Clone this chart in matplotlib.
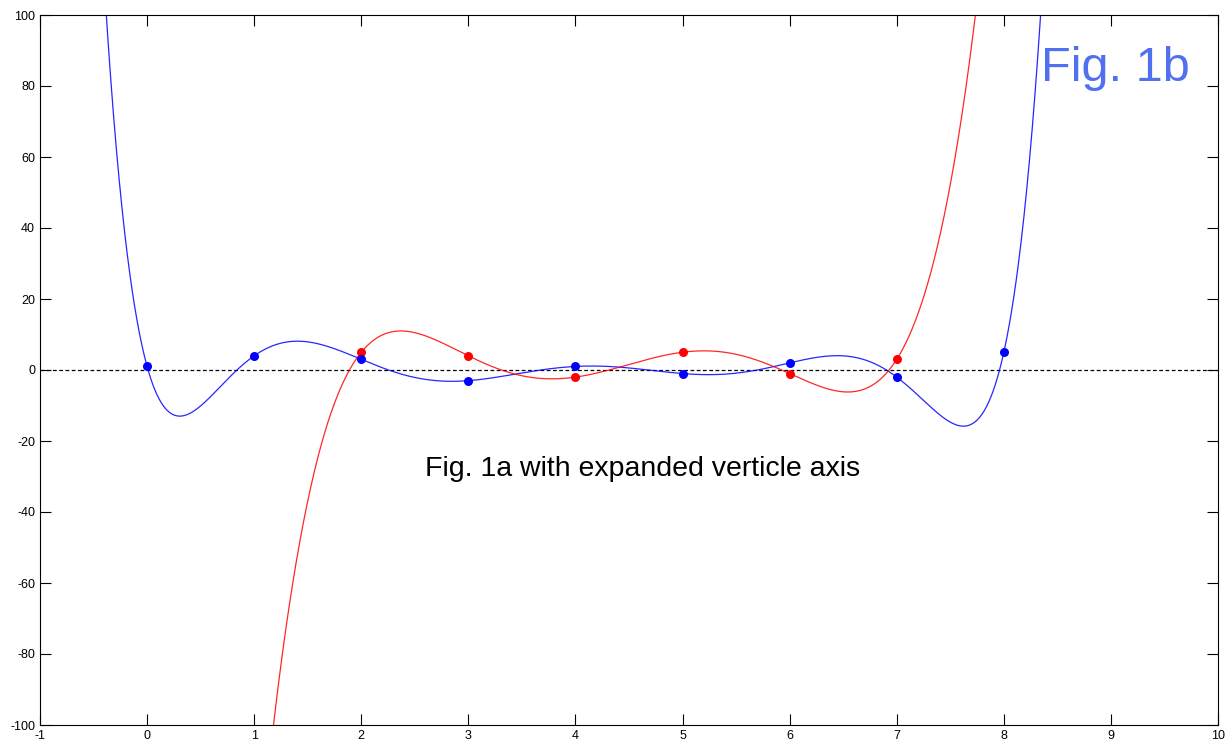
import numpy as np
import matplotlib.pyplot as plt

plt.rcParams['font.family'] = ['Liberation Sans', 'DejaVu Sans']
plt.rcParams['axes.unicode_minus'] = False

# data points
blue_x = [0, 1, 2, 3, 4, 5, 6, 7, 8]
blue_y = [1, 4, 3, -3, 1, -1, 2, -2, 5]
red_x = [2, 3, 4, 5, 6, 7]
red_y = [5, 4, -2, 5, -1, 3]

x_ticks = list(range(-1, 11))
y_ticks = list(range(-100, 101, 20))


def interp_curve(xs, ys, grid):
    # polynomial passing through every point
    coef = np.polyfit(xs, ys, len(xs) - 1)
    return np.polyval(coef, grid)


def main():
    fig = plt.figure(figsize=(12.3, 7.5), dpi=100)
    ax = fig.add_axes([40 / 1230, 25 / 750, 1178 / 1230, 710 / 750])

    grid = np.linspace(-1, 10, 3000)
    ax.axhline(0, color='black', ls=(0, (3, 2)), lw=0.9, zorder=1)
    ax.plot(grid, interp_curve(blue_x, blue_y, grid), color='#0000ff', lw=0.9, alpha=0.85)
    ax.plot(grid, interp_curve(red_x, red_y, grid), color='#ff0000', lw=0.9, alpha=0.85)
    ax.plot(red_x, red_y, 'o', color='#ff0000', ms=6.5, mec='none', zorder=3)
    ax.plot(blue_x, blue_y, 'o', color='#0000ff', ms=6.5, mec='none', zorder=3)

    ax.set_xlim(-1, 10)
    ax.set_ylim(-100, 100)
    ax.set_xticks(x_ticks)
    ax.set_yticks(y_ticks)
    ax.tick_params(direction='in', top=True, right=True, labelsize=9, length=8, width=0.8)
    for s in ax.spines.values():
        s.set_linewidth(0.8)

    ax.text(4.63, -28, 'Fig. 1a with expanded verticle axis', fontsize=20.5,
            ha='center', va='center')
    ax.text(9.74, 85, 'Fig. 1b', fontsize=35, color='#5070f0', ha='right', va='center')

    fig.savefig('out.png', dpi=100)


if __name__ == "__main__":
    main()
